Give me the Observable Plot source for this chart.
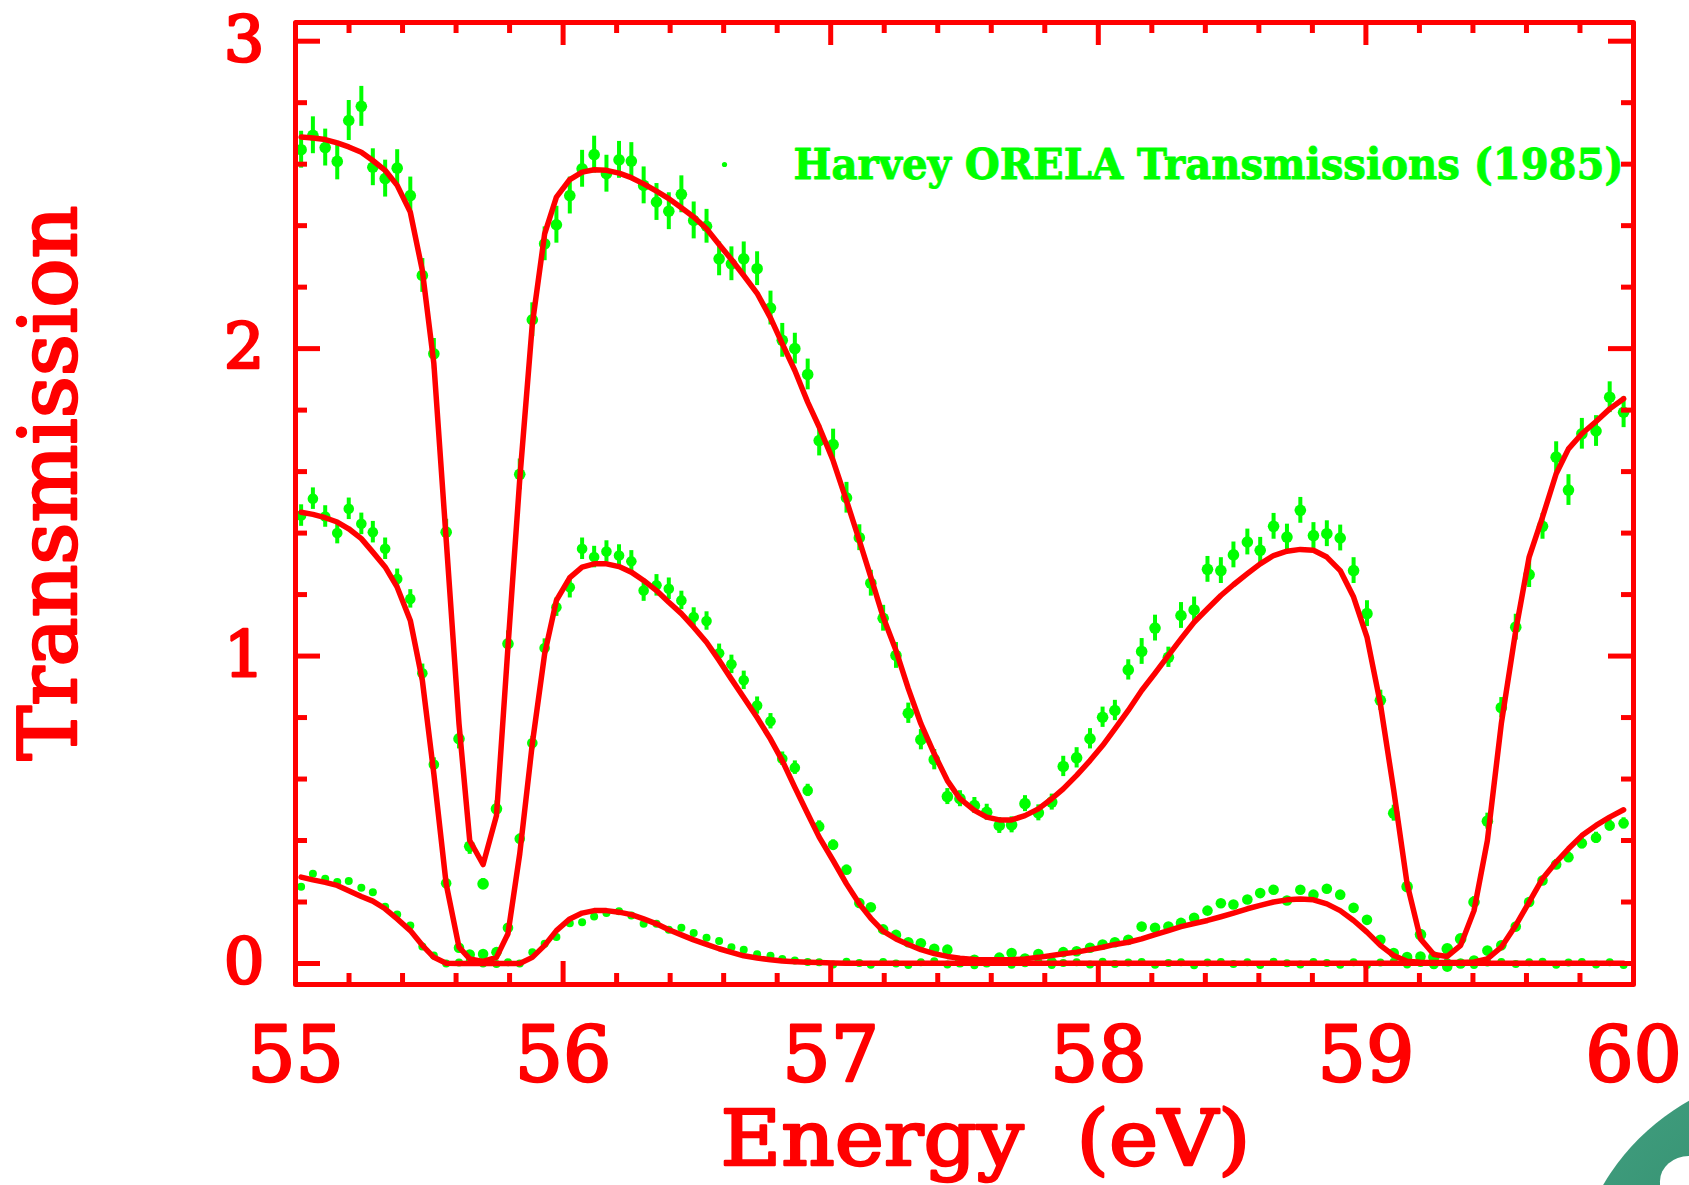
<!DOCTYPE html>
<html>
<head>
<meta charset="utf-8">
<script src="https://cdn.jsdelivr.net/npm/d3@7"></script>
<script src="https://cdn.jsdelivr.net/npm/@observablehq/plot@0.6"></script>
<style>
  html, body { margin: 0; padding: 0; background: #fff; }
  #wrap { position: relative; width: 1689px; height: 1185px; overflow: hidden; background: #fff; }
  #wrap svg { position: absolute; left: 0; top: 0; }
  #logo { position: absolute; left: 1572px; top: 1072px; width: 456px; height: 456px; border-radius: 50%;
          background: radial-gradient(circle at 50% 50%, #2f8a68 0%, #3f9c7d 80%, #5aae90 100%); }
  #leaf { position: absolute; left: 1660px; top: 1156px; width: 64px; height: 56px; border-radius: 45% 55% 40% 50%; background: #fff; }
</style>
</head>
<body>
<div id="wrap"></div>
<script>
// ---------- data ----------
const energy = [
  55.021, 55.065, 55.111, 55.156, 55.199, 55.246, 55.289, 55.335, 55.380, 55.429,
  55.474, 55.517, 55.563, 55.611, 55.651, 55.701, 55.751, 55.794, 55.838, 55.885,
  55.931, 55.975, 56.025, 56.071, 56.116, 56.162, 56.209, 56.255, 56.301, 56.349,
  56.395, 56.442, 56.488, 56.536, 56.583, 56.629, 56.675, 56.725, 56.775, 56.819,
  56.866, 56.914, 56.957, 57.009, 57.059, 57.107, 57.150, 57.196, 57.244, 57.290,
  57.337, 57.387, 57.436, 57.483, 57.537, 57.583, 57.630, 57.676, 57.726, 57.776,
  57.826, 57.869, 57.919, 57.969, 58.016, 58.062, 58.112, 58.162, 58.212, 58.262,
  58.309, 58.358, 58.408, 58.458, 58.505, 58.557, 58.605, 58.655, 58.705, 58.755,
  58.804, 58.854, 58.904, 58.954, 59.004, 59.054, 59.104, 59.154, 59.204, 59.254,
  59.304, 59.354, 59.404, 59.454, 59.506, 59.560, 59.610, 59.660, 59.711, 59.757,
  59.807, 59.860, 59.911, 59.963
];

// upper (offset) measured transmissions and uncertainties
const upperT = [
  2.647, 2.694, 2.654, 2.609, 2.742, 2.788, 2.590, 2.553, 2.587, 2.498,
  2.238, 1.983, 1.403, 0.731, 0.381, 0.259, 0.503, 1.040, 1.591, 2.094,
  2.341, 2.403, 2.498, 2.585, 2.631, 2.569, 2.614, 2.610, 2.531, 2.477,
  2.447, 2.502, 2.417, 2.398, 2.292, 2.276, 2.292, 2.260, 2.132, 2.027,
  2.000, 1.916, 1.701, 1.688, 1.515, 1.385, 1.237, 1.123, 1.002, 0.814,
  0.728, 0.663, 0.543, 0.536, 0.514, 0.492, 0.449, 0.451, 0.520, 0.490,
  0.525, 0.641, 0.669, 0.731, 0.801, 0.823, 0.955, 1.015, 1.091, 0.996,
  1.132, 1.150, 1.282, 1.278, 1.329, 1.371, 1.344, 1.422, 1.387, 1.474,
  1.392, 1.398, 1.384, 1.278, 1.138, 0.856, 0.489, 0.250, 0.094, 0.021,
  0.048, 0.080, 0.200, 0.463, 0.832, 1.094, 1.265, 1.422, 1.647, 1.540,
  1.723, 1.732, 1.842, 1.793
];
const upperErr = [
  .060, .060, .060, .060, .065, .065, .060, .060, .060, .060,
  .055, .050, .042, .033, .026, .017, .026, .042, .050, .055,
  .055, .060, .060, .060, .060, .060, .060, .060, .060, .060,
  .060, .060, .060, .055, .055, .055, .055, .055, .055, .055,
  .050, .050, .050, .050, .050, .042, .042, .042, .042, .033,
  .033, .033, .026, .026, .026, .026, .026, .026, .026, .026,
  .026, .033, .033, .033, .033, .033, .033, .042, .042, .033,
  .042, .042, .042, .042, .042, .042, .042, .042, .042, .042,
  .042, .042, .042, .042, .042, .033, .026, .017, .010, .010,
  .010, .010, .017, .026, .033, .042, .042, .042, .050, .050,
  .050, .050, .050, .050
];

// middle sample
const middleT = [
  1.457, 1.512, 1.454, 1.400, 1.479, 1.430, 1.403, 1.349, 1.251, 1.186,
  0.944, 0.647, 0.261, 0.051, 0.029, 0.031, 0.037, 0.116, 0.406, 0.717,
  1.026, 1.159, 1.224, 1.349, 1.322, 1.340, 1.327, 1.308, 1.213, 1.230,
  1.219, 1.181, 1.127, 1.114, 1.009, 0.973, 0.921, 0.839, 0.788, 0.666,
  0.637, 0.563, 0.446, 0.386, 0.305, 0.197, 0.183, 0.111, 0.093, 0.069,
  0.066, 0.048, 0.045, 0.004, 0.012, 0.004, 0.019, 0.034, 0.016, 0.031,
  0.004, 0.037, 0.040, 0.051, 0.062, 0.069, 0.077, 0.120, 0.116, 0.120,
  0.132, 0.149, 0.172, 0.196, 0.192, 0.208, 0.229, 0.240, 0.205, 0.240,
  0.224, 0.243, 0.224, 0.181, 0.142, 0.077, 0.034, 0.021, 0.023, 0.000,
  -0.010, 0.000, 0.010, 0.042, 0.059, 0.120, 0.200, 0.270, 0.322, 0.346,
  0.391, 0.409, 0.449, 0.456
];
const middleErr = [
  .035, .035, .035, .035, .035, .035, .035, .035, .032, .030,
  .030, .022, .015, .008, .008, .008, .008, .008, .015, .022,
  .030, .030, .035, .035, .035, .035, .035, .035, .035, .035,
  .035, .030, .030, .030, .030, .030, .030, .028, .025, .022,
  .022, .020, .018, .016, .015, .012, .012, .008, .008, .008,
  .008, .008, .008, .008, .008, .008, .008, .008, .008, .008,
  .008, .008, .008, .008, .008, .008, .008, .008, .008, .008,
  .010, .010, .010, .010, .010, .010, .010, .010, .010, .010,
  .010, .010, .010, .010, .008, .008, .008, .008, .008, .008,
  .008, .008, .008, .008, .008, .010, .012, .014, .016, .016,
  .018, .018, .018, .018
];

// bottom (thick) sample
const bottomT = [
  0.250, 0.292, 0.276, 0.265, 0.268, 0.246, 0.232, 0.185, 0.159, 0.124,
  0.055, 0.026, 0.000, 0.003, 0.007, 0.000, -0.002, 0.004, 0.000, 0.037,
  0.064, 0.086, 0.131, 0.134, 0.153, 0.164, 0.170, 0.156, 0.129, 0.129,
  0.110, 0.116, 0.099, 0.084, 0.073, 0.053, 0.045, 0.030, 0.025, 0.015,
  0.010, 0.005, 0.004, -0.003, 0.006, 0.002, -0.004, 0.005, 0.000, -0.005,
  0.004, 0.007, -0.003, 0.002, -0.006, 0.003, 0.005, -0.004, 0.001, 0.006,
  -0.005, 0.002, 0.004, -0.003, 0.006, -0.002, 0.003, 0.005, -0.004, 0.002,
  0.004, -0.006, 0.003, 0.005, -0.002, 0.004, -0.005, 0.006, 0.001, -0.003,
  0.005, 0.002, -0.004, 0.004, -0.005, 0.003, 0.006, -0.003, 0.002, -0.006,
  0.004, 0.000, -0.005, 0.003, 0.005, -0.002, 0.004, 0.006, -0.004, 0.003,
  0.005, -0.003, 0.004, -0.005
];

// fitted (red) curves
const upperFit = [
  2.688, 2.685, 2.680, 2.669, 2.656, 2.639, 2.612, 2.580, 2.531, 2.444,
  2.254, 1.952, 1.380, 0.780, 0.400, 0.322, 0.481, 1.030, 1.575, 2.080,
  2.373, 2.493, 2.550, 2.574, 2.582, 2.580, 2.571, 2.556, 2.536, 2.512,
  2.488, 2.458, 2.428, 2.390, 2.339, 2.290, 2.238, 2.180, 2.100, 2.016,
  1.929, 1.826, 1.745, 1.636, 1.506, 1.376, 1.257, 1.127, 1.018, 0.894,
  0.780, 0.682, 0.595, 0.536, 0.498, 0.476, 0.467, 0.467, 0.481, 0.503,
  0.536, 0.568, 0.612, 0.660, 0.709, 0.763, 0.823, 0.888, 0.944, 1.002,
  1.056, 1.110, 1.154, 1.197, 1.232, 1.268, 1.300, 1.327, 1.341, 1.347,
  1.344, 1.322, 1.278, 1.192, 1.062, 0.845, 0.563, 0.259, 0.080, 0.029,
  0.023, 0.059, 0.172, 0.400, 0.780, 1.083, 1.322, 1.452, 1.593, 1.674,
  1.723, 1.763, 1.804, 1.837
];
const middleFit = [
  1.468, 1.461, 1.450, 1.436, 1.414, 1.382, 1.338, 1.290, 1.224, 1.116,
  0.921, 0.617, 0.259, 0.053, 0.015, 0.007, 0.020, 0.097, 0.357, 0.715,
  1.007, 1.181, 1.255, 1.289, 1.300, 1.300, 1.291, 1.273, 1.246, 1.213,
  1.175, 1.138, 1.094, 1.045, 0.986, 0.925, 0.865, 0.800, 0.730, 0.660,
  0.573, 0.487, 0.411, 0.335, 0.259, 0.194, 0.147, 0.105, 0.080, 0.062,
  0.045, 0.032, 0.023, 0.017, 0.013, 0.012, 0.012, 0.012, 0.015, 0.020,
  0.026, 0.032, 0.037, 0.045, 0.053, 0.062, 0.069, 0.080, 0.094, 0.107,
  0.120, 0.130, 0.140, 0.152, 0.164, 0.178, 0.189, 0.200, 0.207, 0.210,
  0.207, 0.194, 0.172, 0.140, 0.102, 0.059, 0.026, 0.007, 0.004, 0.003,
  0.003, 0.003, 0.005, 0.015, 0.053, 0.124, 0.200, 0.276, 0.330, 0.373,
  0.416, 0.449, 0.476, 0.500
];
const bottomFit = [
  0.281, 0.272, 0.264, 0.254, 0.237, 0.218, 0.203, 0.178, 0.145, 0.107,
  0.059, 0.020, 0.001, 0.000, 0.000, 0.000, 0.000, 0.000, 0.000, 0.020,
  0.059, 0.107, 0.145, 0.164, 0.172, 0.172, 0.167, 0.159, 0.145, 0.129,
  0.110, 0.093, 0.077, 0.062, 0.048, 0.036, 0.025, 0.018, 0.012, 0.008,
  0.006, 0.004, 0.003, 0.002, 0.001, 0.001, 0.001, 0.001, 0.001, 0.001,
  0.001, 0.001, 0.001, 0.001, 0.001, 0.001, 0.001, 0.001, 0.001, 0.001,
  0.001, 0.001, 0.001, 0.001, 0.001, 0.001, 0.001, 0.001, 0.001, 0.001,
  0.001, 0.001, 0.001, 0.001, 0.001, 0.001, 0.001, 0.001, 0.001, 0.001,
  0.001, 0.001, 0.001, 0.001, 0.001, 0.001, 0.001, 0.001, 0.001, 0.001,
  0.001, 0.001, 0.001, 0.001, 0.001, 0.001, 0.001, 0.001, 0.001, 0.001,
  0.001, 0.001, 0.001, 0.001
];

// axes / ticks / texts
const xMajor = [55, 56, 57, 58, 59, 60];
const xMinor = [55.2, 55.4, 55.6, 55.8, 56.2, 56.4, 56.6, 56.8, 57.2, 57.4, 57.6, 57.8,
                58.2, 58.4, 58.6, 58.8, 59.2, 59.4, 59.6, 59.8];
const yMajor = [0, 1, 2, 3];
const yMinor = [0.2, 0.4, 0.6, 0.8, 1.2, 1.4, 1.6, 1.8, 2.2, 2.4, 2.6, 2.8];
const xTitle = "Energy  (eV)";
const yTitle = "Transmission";
const legendText = "Harvey ORELA Transmissions (1985)";

// ---------- build ----------
const RED = "#ff0000", GREEN = "#00ff00";
const W = 1689, H = 1185, ML = 295, MR = 56, MT = 22, MB = 201;
const innerW = W - ML - MR, innerH = H - MT - MB;

const rows = (vals, errs) => energy.map((E, i) => ({
  E, T: vals[i],
  lo: errs ? vals[i] - errs[i] : vals[i],
  hi: errs ? vals[i] + errs[i] : vals[i]
}));
const upper = rows(upperT, upperErr);
const middle = rows(middleT, middleErr);
const bottom = rows(bottomT, null);
const fits = [upperFit, middleFit, bottomFit].map(f => energy.map((E, i) => ({E, T: f[i]})));

const SERIF = "DejaVu Serif";

const chart = Plot.plot({
  width: W, height: H,
  marginLeft: ML, marginRight: MR, marginTop: MT, marginBottom: MB,
  x: {domain: [55, 60], axis: null},
  y: {domain: [-0.0683, 3.0608], axis: null},
  style: {background: "transparent", overflow: "visible"},
  marks: [
    // error bars
    Plot.ruleX(upper, {x: "E", y1: "lo", y2: "hi", stroke: GREEN, strokeWidth: 4}),
    Plot.ruleX(middle, {x: "E", y1: "lo", y2: "hi", stroke: GREEN, strokeWidth: 4}),
    // points
    Plot.dot(upper, {x: "E", y: "T", r: 5.8, fill: GREEN}),
    Plot.dot(middle, {x: "E", y: "T", r: 5.3, fill: GREEN}),
    Plot.dot(bottom, {x: "E", y: "T", r: 4, fill: GREEN}),
    // fits
    ...fits.map(f => Plot.line(f, {x: "E", y: "T", stroke: RED, strokeWidth: 5.5, strokeLinejoin: "round"})),
    // frame
    Plot.frame({stroke: RED, strokeWidth: 5, strokeLinejoin: "round"}),
    // ticks bottom / top
    Plot.ruleX(xMajor, {x: d => d, stroke: RED, strokeWidth: 5, insetTop: innerH - 23}),
    Plot.ruleX(xMinor, {x: d => d, stroke: RED, strokeWidth: 5, insetTop: innerH - 11}),
    Plot.ruleX(xMajor, {x: d => d, stroke: RED, strokeWidth: 5, insetBottom: innerH - 23}),
    Plot.ruleX(xMinor, {x: d => d, stroke: RED, strokeWidth: 5, insetBottom: innerH - 11}),
    // ticks left / right
    Plot.ruleY(yMajor, {y: d => d, stroke: RED, strokeWidth: 5, insetRight: innerW - 25}),
    Plot.ruleY(yMinor, {y: d => d, stroke: RED, strokeWidth: 5, insetRight: innerW - 12}),
    Plot.ruleY(yMajor, {y: d => d, stroke: RED, strokeWidth: 5, insetLeft: innerW - 25}),
    Plot.ruleY(yMinor, {y: d => d, stroke: RED, strokeWidth: 5, insetLeft: innerW - 12}),
    // tick labels
    Plot.text(yMajor, {y: d => d, text: d => String(d), frameAnchor: "left", dx: -31,
      textAnchor: "end", lineAnchor: "middle", fontSize: 64, fontFamily: SERIF, fill: RED,
      stroke: RED, strokeWidth: 2.5}),
    Plot.text(xMajor, {x: d => d, text: d => String(d), frameAnchor: "bottom", dy: 43,
      lineAnchor: "top", fontSize: 76, fontFamily: SERIF, fill: RED,
      stroke: RED, strokeWidth: 2.5}),
    // axis titles
    Plot.text([xTitle], {text: d => d, frameAnchor: "bottom", dx: 21, dy: 180,
      lineAnchor: "bottom", fontSize: 76, fontFamily: SERIF, fill: RED, stroke: RED, strokeWidth: 2.5}),
    Plot.text([yTitle], {text: d => d, frameAnchor: "left", rotate: -90, dx: -220, dy: 257,
      textAnchor: "start", lineAnchor: "bottom", fontSize: 80, fontFamily: SERIF, fill: RED,
      stroke: RED, strokeWidth: 2.5}),
    // legend
    Plot.dot([legendText], {frameAnchor: "top-right", dx: -909, dy: 142, r: 2.6, fill: GREEN}),
    Plot.text([legendText], {text: d => d, frameAnchor: "top-right", dx: -10, dy: 156,
      textAnchor: "end", lineAnchor: "bottom", fontSize: 42, fontWeight: "bold", fontFamily: SERIF,
      fill: GREEN, stroke: GREEN, strokeWidth: 1})
  ]
});

const wrap = document.getElementById("wrap");
wrap.appendChild(chart);
d3.select(chart).selectAll("text").each(function () {
  const t = this.textContent;
  if (t === legendText) { this.setAttribute("textLength", 830); this.setAttribute("lengthAdjust", "spacingAndGlyphs"); }
  if (t === xTitle) { this.setAttribute("textLength", 530); this.setAttribute("lengthAdjust", "spacingAndGlyphs"); }
  if (t === yTitle) { this.setAttribute("textLength", 555); this.setAttribute("lengthAdjust", "spacingAndGlyphs"); }
});
const logo = document.createElement("div"); logo.id = "logo"; wrap.appendChild(logo);
const leaf = document.createElement("div"); leaf.id = "leaf"; wrap.appendChild(leaf);
</script>
</body>
</html>
